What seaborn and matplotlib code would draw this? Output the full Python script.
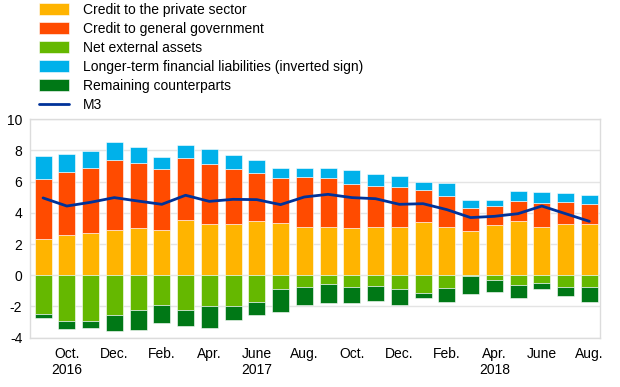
import numpy as np
import pandas as pd
from matplotlib import pyplot as plt
from matplotlib.patches import Patch
from matplotlib.lines import Line2D
import seaborn as sns

# monthly observations, Sep 2016 - Aug 2018 (annual growth contributions, p.p.)
months = pd.period_range('2016-09', '2018-08', freq='M')

private = [2.31, 2.59, 2.74, 2.88, 3.03, 2.91, 3.55, 3.29, 3.29, 3.48, 3.33, 3.12,
           3.10, 3.06, 3.10, 3.12, 3.42, 3.12, 2.82, 3.23, 3.48, 3.08, 3.27, 3.31]
government = [3.84, 4.06, 4.14, 4.51, 4.15, 3.88, 3.99, 3.83, 3.53, 3.08, 2.89, 3.16,
              3.14, 2.82, 2.61, 2.54, 2.07, 1.99, 1.52, 1.24, 1.31, 1.54, 1.45, 1.24]
external = [-2.46, -2.95, -2.91, -2.54, -2.22, -1.88, -2.22, -1.99, -1.94, -1.71, -0.90, -0.77,
            -0.58, -0.77, -0.68, -0.88, -1.13, -0.81, -0.02, -0.32, -0.62, -0.47, -0.75, -0.77]
longterm = [1.50, 1.15, 1.09, 1.14, 1.05, 0.77, 0.81, 0.98, 0.92, 0.83, 0.66, 0.62,
            0.62, 0.85, 0.81, 0.73, 0.51, 0.81, 0.51, 0.38, 0.64, 0.70, 0.54, 0.58]
remaining = [-0.28, -0.47, -0.44, -1.05, -1.31, -1.15, -1.03, -1.36, -0.94, -0.85, -1.45, -1.13,
             -1.17, -1.02, -0.97, -1.00, -0.30, -0.90, -1.16, -0.77, -0.85, -0.43, -0.60, -0.96]
m3 = [4.96, 4.44, 4.68, 4.98, 4.76, 4.55, 5.13, 4.74, 4.87, 4.85, 4.53, 5.02,
      5.19, 4.98, 4.91, 4.55, 4.59, 4.21, 3.70, 3.78, 3.95, 4.44, 3.95, 3.46]

tick_labels = ['Oct.\n2016', 'Dec.', 'Feb.', 'Apr.', 'June\n2017', 'Aug.',
               'Oct.', 'Dec.', 'Feb.', 'Apr.\n2018', 'June', 'Aug.']

colors = {
    'Credit to the private sector': '#FFB400',
    'Credit to general government': '#FF4B00',
    'Net external assets': '#65B800',
    'Longer-term financial liabilities (inverted sign)': '#00B1EA',
    'Remaining counterparts': '#007816',
}
m3_color = '#003299'

sns.set_theme(style='white')
plt.rcParams['font.family'] = ['Liberation Sans', 'DejaVu Sans']
plt.rcParams['axes.unicode_minus'] = False
plt.rcParams['text.color'] = 'black'
plt.rcParams['xtick.color'] = 'black'
plt.rcParams['ytick.color'] = 'black'

fig = plt.figure(figsize=(6.2, 3.87), dpi=100)
ax = fig.add_axes([30 / 620, 1 - 337.7 / 387, 570 / 620, 218.4 / 387])

x = np.arange(len(months))
# stacking order: positives up from zero, negatives down from zero
stack = [
    (private, 'Credit to the private sector'),
    (government, 'Credit to general government'),
    (longterm, 'Longer-term financial liabilities (inverted sign)'),
    (external, 'Net external assets'),
    (remaining, 'Remaining counterparts'),
]
pos_base = np.zeros(len(x))
neg_base = np.zeros(len(x))
for vals, name in stack:
    v = np.array(vals)
    base = np.where(v >= 0, pos_base, neg_base)
    ax.bar(x, v, 0.72, bottom=base, color=colors[name],
           edgecolor='white', linewidth=0.4, zorder=2)
    pos_base += np.clip(v, 0, None)
    neg_base += np.clip(v, None, 0)

sns.lineplot(x=x, y=m3, color=m3_color, lw=2, ax=ax, zorder=3, legend=False)

ax.set_xlim(-0.55, 23.45)
ax.set_ylim(-4, 10)
ax.set_yticks(range(-4, 11, 2))
ax.set_xticks(x[1::2])
ax.set_xticklabels(tick_labels)
for lab in ax.get_xticklabels():
    lab.set_linespacing(1.15)
ax.tick_params(axis='x', length=0, pad=7, labelsize=10)
ax.tick_params(axis='y', length=0, pad=5.5, labelsize=10)
ax.grid(axis='y', color='#e4e4e4', lw=1, zorder=0)
ax.set_axisbelow(True)
for s in ax.spines.values():
    s.set_color('#dcdcdc')
    s.set_linewidth(1)

legend_order = ['Credit to the private sector', 'Credit to general government',
                'Net external assets', 'Longer-term financial liabilities (inverted sign)',
                'Remaining counterparts']
handles = [Patch(facecolor=colors[n], edgecolor='white', linewidth=0.4) for n in legend_order]
handles.append(Line2D([0], [0], color=m3_color, lw=2))
fig.legend(handles, legend_order + ['M3'], loc='upper left',
           bbox_to_anchor=(39 / 620, 1 - 3 / 387), frameon=False, fontsize=10,
           handlelength=2.15, handleheight=1.0, labelspacing=0.36,
           handletextpad=1.0, borderpad=0, borderaxespad=0)

fig.savefig('out.png', dpi=100)
